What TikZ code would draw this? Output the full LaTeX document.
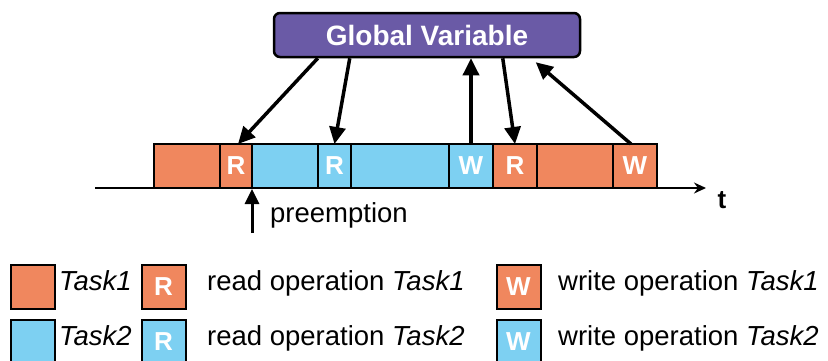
\documentclass[tikz,border=0pt]{standalone}
\usepackage{fontspec}
\setmainfont{Liberation Sans}
\usetikzlibrary{positioning,arrows.meta}
\definecolor{taskone}{HTML}{F0875E}
\definecolor{tasktwo}{HTML}{7DD0F2}
\definecolor{globvar}{HTML}{6A5AA6}
\tikzset{
  seg/.style={draw, line width=2pt, minimum height=44pt, inner sep=0pt, outer sep=0pt, text=white, font=\fontsize{26}{30}\selectfont\bfseries},
  legbox/.style={seg, minimum width=44pt},
  legtext/.style={inner sep=0pt, anchor=base west},
  access/.style={line width=3.5pt, -{Triangle[length=17pt,width=16pt]}},
  timeaxis/.style={line width=1.5pt, -{Stealth[length=12pt,width=11pt]}}
}

\begin{document}
\begin{tikzpicture}[x=1pt, y=-1pt, font=\fontsize{27.5}{32}\selectfont]
  \useasboundingbox (0,0) rectangle (828,360);

  % global variable
  \node[draw, line width=2.5pt, rounded corners=6pt, fill=globvar, text=white, font=\fontsize{28}{32}\selectfont\bfseries,
        minimum width=306pt, minimum height=44pt, inner sep=0pt] (gv) at (427,35) {Global Variable};

  % time axis
  \coordinate (ax0) at (95,188);
  \coordinate (ax1) at (706,188);
  \draw[timeaxis] (ax0) -- (ax1);
  \node[font=\fontsize{26}{30}\selectfont\bfseries] (tlabel) at (722,200) {t};

  % schedule
  \node[seg, fill=taskone, minimum width=66pt, anchor=west] (t1a) at (154,166) {};
  \node[seg, fill=taskone, minimum width=32pt, right=0pt of t1a] (r1) {R};
  \node[seg, fill=tasktwo, minimum width=66pt, right=0pt of r1] (t2a) {};
  \node[seg, fill=tasktwo, minimum width=33pt, right=0pt of t2a] (r2) {R};
  \node[seg, fill=tasktwo, minimum width=98pt, right=0pt of r2] (t2b) {};
  \node[seg, fill=tasktwo, minimum width=44pt, right=0pt of t2b] (w1) {W};
  \node[seg, fill=taskone, minimum width=44pt, right=0pt of w1] (r3) {R};
  \node[seg, fill=taskone, minimum width=76pt, right=0pt of r3] (t1b) {};
  \node[seg, fill=taskone, minimum width=44pt, right=0pt of t1b] (w2) {W};

  % reads and writes
  \draw[access] ([xshift=45pt]gv.south west) -- ([xshift=2pt]r1.north);
  \draw[access] ([xshift=77pt]gv.south west) -- (r2.north);
  \draw[access] (w1.north) -- (gv.south -| w1.north);
  \draw[access] ([xshift=230pt]gv.south west) -- (r3.north);
  \draw[access] ([xshift=-4pt]w2.north) -- ([xshift=263pt, yshift=-4pt]gv.south west);

  % preemption
  \coordinate (pre) at (252,233);
  \draw[access, line width=3pt, -{Triangle[length=15pt,width=14pt]}] (pre) -- ([yshift=-1pt]r1.south east);
  \node[legtext] (pretext) at (270,222) {preemption};

  % legend
  \node[legbox, fill=taskone] (lt1) at (33,287) {};
  \node[legtext] (lt1txt) at (59,290) {\textit{Task1}};
  \node[legbox, fill=taskone] (lr1) at (163.5,287) {R};
  \node[legtext] (lr1txt) at (207,290) {read operation \textit{Task1}};
  \node[legbox, fill=taskone] (lw1) at (518.5,287) {W};
  \node[legtext] (lw1txt) at (558,290) {write operation \textit{Task1}};

  \node[legbox, fill=tasktwo] (lt2) at (33,342) {};
  \node[legtext] (lt2txt) at (59,345) {\textit{Task2}};
  \node[legbox, fill=tasktwo] (lr2) at (163.5,342) {R};
  \node[legtext] (lr2txt) at (207,345) {read operation \textit{Task2}};
  \node[legbox, fill=tasktwo] (lw2) at (518.5,342) {W};
  \node[legtext] (lw2txt) at (558,345) {write operation \textit{Task2}};
\end{tikzpicture}
\end{document}
